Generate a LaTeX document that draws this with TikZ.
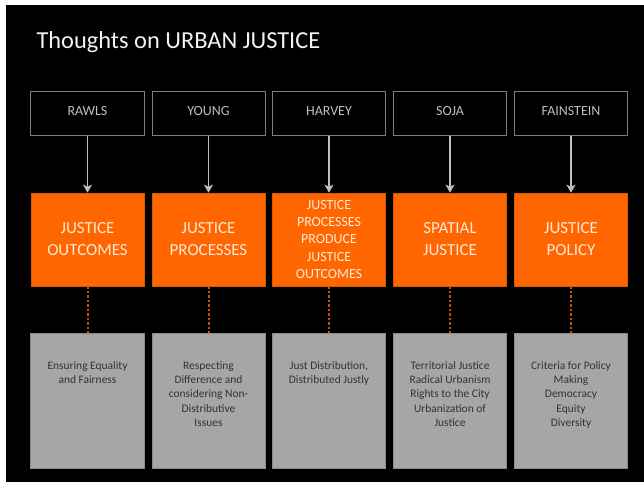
\documentclass[tikz,border=0pt]{standalone}
\usepackage{fontspec}
\setmainfont{Carlito}
\usepackage{tikz}
\usetikzlibrary{arrows.meta,positioning}
\definecolor{boxorange}{HTML}{FF6600}
\definecolor{orangetext}{HTML}{FFE9D6}
\definecolor{linkorange}{HTML}{C0500E}
\definecolor{namegray}{HTML}{BFBFBF}
\definecolor{frame}{HTML}{7F7F7F}
\definecolor{notefill}{HTML}{A6A6A6}
\definecolor{noteframe}{HTML}{8A8A8A}
\definecolor{notetextgray}{HTML}{333333}

\begin{document}
\begin{tikzpicture}[x=1bp,y=-1bp,
    thinker/.style={draw=frame, fill=black, line width=1bp, minimum width=113bp, minimum height=44bp, inner sep=0pt, text depth=6bp, text=namegray, font=\fontsize{14}{16}\selectfont},
    idea/.style={draw=boxorange!85!black, fill=boxorange, line width=0.6bp, minimum width=113bp, minimum height=93bp, inner sep=0pt, align=center, text=orangetext, font=\fontsize{17}{22}\selectfont},
    note/.style={draw=noteframe, fill=notefill, line width=1bp, minimum width=113bp, minimum height=135bp, inner sep=0pt},
    notetext/.style={inner sep=0pt, align=center, text=notetextgray, font=\fontsize{11.5}{14.2}\selectfont},
    push/.style={draw=namegray, line width=1.4bp, -{Stealth[length=8bp,width=9bp,inset=2bp]}},
    link/.style={draw=linkorange, line width=2bp, dash pattern=on 2.5bp off 2bp}] % 5 columns
  \fill[white] (0,0) rectangle (644,485);
  \fill[black] (6,5) rectangle (644,482);
  \node[anchor=base west, text=white!95!black, font=\fontsize{24.5}{28}\selectfont] (heading) at (33,49) {Thoughts on URBAN JUSTICE};
  % thinkers
  \node[thinker] (a1) at (87.5,114) {RAWLS};
  \node[thinker] (a2) at (208.5,114) {YOUNG};
  \node[thinker] (a3) at (329,114) {HARVEY};
  \node[thinker] (a4) at (450,114) {SOJA};
  \node[thinker] (a5) at (571,114) {FAINSTEIN};
  % themes
  \node[idea] (t1) at (87.5,239.5) {JUSTICE\\OUTCOMES};
  \node[idea] (t2) at (208.5,239.5) {JUSTICE\\PROCESSES};
  \node[idea, font=\fontsize{14}{17.3}\selectfont] (t3) at (329,239.5) {JUSTICE\\PROCESSES\\PRODUCE\\JUSTICE\\OUTCOMES};
  \node[idea] (t4) at (450,239.5) {SPATIAL\\JUSTICE};
  \node[idea] (t5) at (571,239.5) {JUSTICE\\POLICY};
  % notes
  \node[note] (d1) at (87.5,400.5) {};
  \node[note] (d2) at (208.5,400.5) {};
  \node[note] (d3) at (329,400.5) {};
  \node[note] (d4) at (450,400.5) {};
  \node[note] (d5) at (571,400.5) {};
  \node[notetext, below=29bp of d1.north] (n1) {Ensuring Equality\\and Fairness};
  \node[notetext, below=29bp of d2.north] (n2) {Respecting\\Difference and\\considering Non-\\Distributive\\Issues};
  \node[notetext, below=29bp of d3.north] (n3) {Just Distribution,\\Distributed Justly};
  \node[notetext, below=29bp of d4.north] (n4) {Territorial Justice\\Radical Urbanism\\Rights to the City\\Urbanization of\\Justice};
  \node[notetext, below=29bp of d5.north] (n5) {Criteria for Policy\\Making\\Democracy\\Equity\\Diversity};
  % connectors
  \draw[push] (a1) -- (t1);
  \draw[push] (a2) -- (t2);
  \draw[push] (a3) -- (t3);
  \draw[push] (a4) -- (t4);
  \draw[push] (a5) -- (t5);
  \draw[link] (t1) -- (d1);
  \draw[link] (t2) -- (d2);
  \draw[link] (t3) -- (d3);
  \draw[link] (t4) -- (d4);
  \draw[link] (t5) -- (d5);
\end{tikzpicture}
\end{document}
